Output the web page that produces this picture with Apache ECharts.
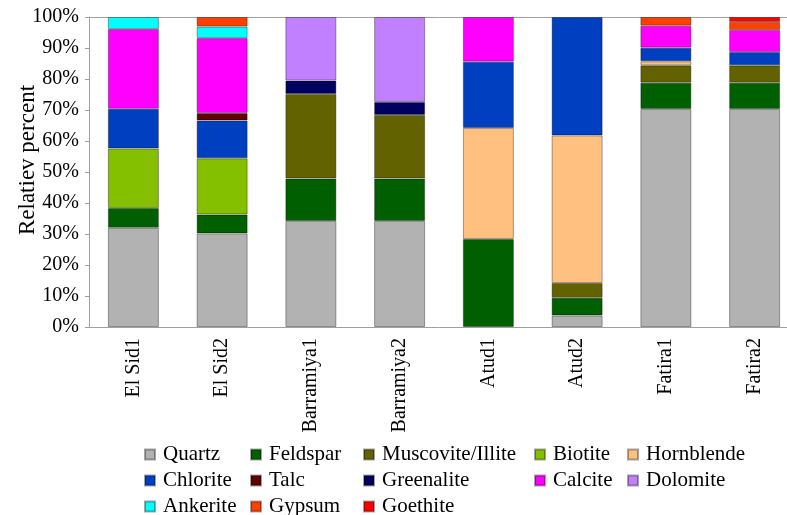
<!DOCTYPE html>
<html>
<head>
<meta charset="utf-8">
<script src="https://cdn.jsdelivr.net/npm/echarts@6/dist/echarts.min.js"></script>
<style>
  html, body { margin: 0; padding: 0; background: #fff; }
  #chart { width: 787px; height: 515px; }
</style>
</head>
<body>
<div id="chart"></div>
<script>
// Sample sites (x axis)
const categories = ['El Sid1', 'El Sid2', 'Barramiya1', 'Barramiya2', 'Atud1', 'Atud2', 'Fatira1', 'Fatira2'];

// Relative mineral abundance per site, in percent (0 = mineral not present)
const quartz     = [32.0, 30.2, 34.2, 34.2, 0,    3.7,  70.3, 70.3];
const feldspar   = [6.4,  6.1,  13.7, 13.7, 28.4, 5.7,  8.5,  8.5];
const muscovite  = [0,    0,    27.3, 20.5, 0,    4.8,  5.6,  5.6];
const biotite    = [19.2, 18.1, 0,    0,    0,    0,    0,    0];
const hornblende = [0,    0,    0,    0,    35.8, 47.6, 1.3,  0];
const chlorite   = [12.8, 12.2, 0,    0,    21.4, 38.2, 4.4,  4.3];
const talc       = [0,    2.4,  0,    0,    0,    0,    0,    0];
const greenalite = [0,    0,    4.3,  4.2,  0,    0,    0,    0];
const calcite    = [25.7, 24.2, 0,    0,    14.4, 0,    7.1,  7.1];
const dolomite   = [0,    0,    20.5, 27.4, 0,    0,    0,    0];
const ankerite   = [3.9,  3.7,  0,    0,    0,    0,    0,    0];
const gypsum     = [0,    3.1,  0,    0,    0,    0,    2.8,  2.6];
const goethite   = [0,    0,    0,    0,    0,    0,    0,    1.6];

// Y axis tick range
const yTicks = { min: 0, max: 100, step: 10 };

// Stack order, bottom to top
const minerals = [
  { name: 'Quartz',           data: quartz,     color: '#B2B2B2' },
  { name: 'Feldspar',         data: feldspar,   color: '#005F00' },
  { name: 'Muscovite/Illite', data: muscovite,  color: '#626200' },
  { name: 'Biotite',          data: biotite,    color: '#84C000' },
  { name: 'Hornblende',       data: hornblende, color: '#FFC080' },
  { name: 'Chlorite',         data: chlorite,   color: '#0040C0' },
  { name: 'Talc',             data: talc,       color: '#600000' },
  { name: 'Greenalite',       data: greenalite, color: '#000060' },
  { name: 'Calcite',          data: calcite,    color: '#FF00FF' },
  { name: 'Dolomite',         data: dolomite,   color: '#C080FF' },
  { name: 'Ankerite',         data: ankerite,   color: '#00FFFF' },
  { name: 'Gypsum',           data: gypsum,     color: '#FF4000' },
  { name: 'Goethite',         data: goethite,   color: '#FF0000' }
];

// Legend table: rows of entries, column x positions (swatch left) and row tops
const legendRows = [
  ['Quartz', 'Feldspar', 'Muscovite/Illite', 'Biotite', 'Hornblende'],
  ['Chlorite', 'Talc', 'Greenalite', 'Calcite', 'Dolomite'],
  ['Ankerite', 'Gypsum', 'Goethite']
];
const legendColX = [144, 250, 363, 534, 627];
const legendRowY = [444, 470, 496];

const FONT = '"Liberation Serif", "Times New Roman", serif';

const legends = [];
legendRows.forEach((row, r) => {
  row.forEach((name, c) => {
    legends.push({
      orient: 'horizontal',
      left: legendColX[c],
      top: legendRowY[r],
      padding: 0,
      itemWidth: 10,
      itemHeight: 10,
      icon: 'rect',
      selectedMode: false,
      data: [name],
      textStyle: { fontFamily: FONT, fontSize: 21, color: '#000', lineHeight: 21, padding: [0, 0, 0, 3] }
    });
  });
});

const chart = echarts.init(document.getElementById('chart'), null, { renderer: 'canvas' });

const option = {
  animation: false,
  backgroundColor: '#ffffff',
  textStyle: { fontFamily: FONT },
  grid: { left: 89, right: -12, top: 17, bottom: 188, containLabel: false, outerBoundsMode: 'none' },
  legend: legends,
  xAxis: [
    {
      type: 'category',
      data: categories,
      boundaryGap: true,
      axisLine: { show: true, lineStyle: { color: '#A0A0A0', width: 1 } },
      axisTick: { show: false },
      axisLabel: {
        rotate: 90,
        margin: 11,
        fontFamily: FONT,
        fontSize: 20,
        color: '#000'
      },
      splitLine: { show: false }
    },
    {
      // plot frame along the top edge
      type: 'category',
      data: categories,
      position: 'top',
      axisLine: { show: true, lineStyle: { color: '#A0A0A0', width: 1 } },
      axisTick: { show: false },
      axisLabel: { show: false },
      splitLine: { show: false }
    }
  ],
  yAxis: {
    type: 'value',
    min: yTicks.min,
    max: yTicks.max,
    interval: yTicks.step,
    name: 'Relatiev percent',
    nameLocation: 'middle',
    nameGap: 50,
    nameRotate: 90,
    nameMoveOverlap: false,
    nameTextStyle: { fontFamily: FONT, fontSize: 23, color: '#000', padding: [0, 0, 0, 24] },
    axisLine: { show: true, lineStyle: { color: '#A0A0A0', width: 1 } },
    axisTick: { show: true, length: 4, lineStyle: { color: '#A0A0A0' } },
    axisLabel: {
      margin: 10,
      fontFamily: FONT,
      fontSize: 20,
      color: '#000',
      formatter: '{value}%'
    },
    splitLine: { show: false }
  },
  series: minerals.map(m => ({
    name: m.name,
    type: 'bar',
    stack: 'total',
    barWidth: 51,
    xAxisIndex: 0,
    data: m.data.map(v => (v === 0 ? '-' : v)),
    itemStyle: {
      color: m.color,
      borderColor: 'rgba(0,0,0,0.35)',
      borderWidth: 1
    },
    emphasis: { disabled: true }
  }))
};

chart.setOption(option);
</script>
</body>
</html>
